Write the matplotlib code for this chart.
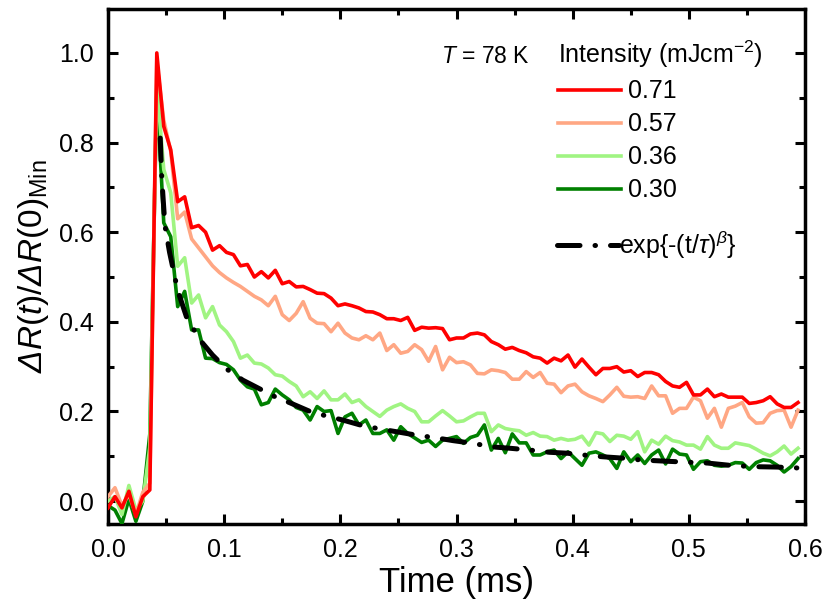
import numpy as np
import matplotlib
matplotlib.use("Agg")
import matplotlib.pyplot as plt
from matplotlib.ticker import MultipleLocator, FormatStrFormatter

plt.rcParams['font.family'] = ['Liberation Sans', 'DejaVu Sans']
plt.rcParams['mathtext.fontset'] = 'custom'
plt.rcParams['mathtext.rm'] = 'Liberation Sans:italic'
plt.rcParams['mathtext.it'] = 'Liberation Sans:italic'
plt.rcParams['mathtext.sf'] = 'Liberation Sans'
plt.rcParams['mathtext.bf'] = 'Liberation Sans:bold'

# sampling interval (ms)
dt = 0.006
n_pts = 100
time = np.arange(n_pts) * dt

labels = ['0.71', '0.57', '0.36', '0.30']
colors = ['#FF0000', '#FFA784', '#A0F482', '#008000']

r071 = [-0.015, 0.01, -0.015, 0.022, -0.035, 0.01, 0.025, 1.0, 0.836, 0.784,
        0.668, 0.679, 0.61, 0.615, 0.60, 0.56, 0.57, 0.555, 0.55, 0.525,
        0.528, 0.50, 0.512, 0.498, 0.515, 0.485, 0.49, 0.478, 0.479, 0.472,
        0.464, 0.463, 0.453, 0.436, 0.44, 0.436, 0.431, 0.423, 0.422, 0.416,
        0.407, 0.407, 0.403, 0.41, 0.381, 0.388, 0.386, 0.387, 0.385, 0.36,
        0.364, 0.364, 0.373, 0.375, 0.371, 0.356, 0.349, 0.339, 0.343, 0.336,
        0.331, 0.322, 0.319, 0.308, 0.319, 0.313, 0.326, 0.299, 0.317, 0.299,
        0.282, 0.296, 0.296, 0.30, 0.288, 0.291, 0.278, 0.287, 0.287, 0.282,
        0.267, 0.257, 0.254, 0.265, 0.237, 0.237, 0.25, 0.233, 0.239, 0.232,
        0.232, 0.232, 0.218, 0.22, 0.224, 0.233, 0.217, 0.209, 0.209, 0.22]

r057 = [0.01, 0.03, -0.01, 0.015, -0.03, 0.02, 0.04, 0.98, 0.85, 0.78,
        0.63, 0.645, 0.585, 0.565, 0.545, 0.525, 0.51, 0.498, 0.488, 0.479,
        0.468, 0.457, 0.449, 0.436, 0.457, 0.416, 0.403, 0.419, 0.445, 0.408,
        0.397, 0.396, 0.378, 0.397, 0.375, 0.364, 0.36, 0.369, 0.36, 0.375,
        0.336, 0.349, 0.33, 0.334, 0.349, 0.338, 0.312, 0.345, 0.293, 0.321,
        0.309, 0.311, 0.304, 0.285, 0.284, 0.293, 0.291, 0.287, 0.272, 0.272,
        0.289, 0.276, 0.287, 0.263, 0.261, 0.242, 0.257, 0.261, 0.244, 0.235,
        0.229, 0.222, 0.237, 0.254, 0.234, 0.232, 0.233, 0.229, 0.257, 0.235,
        0.235, 0.196, 0.207, 0.207, 0.232, 0.224, 0.185, 0.207, 0.165, 0.207,
        0.212, 0.22, 0.188, 0.174, 0.175, 0.196, 0.202, 0.203, 0.165, 0.203]

r036 = [0.0, 0.01, -0.03, 0.035, -0.02, 0.0, 0.12, 0.93, 0.74, 0.688,
        0.524, 0.543, 0.442, 0.46, 0.409, 0.434, 0.393, 0.378, 0.356, 0.319,
        0.326, 0.308, 0.306, 0.297, 0.282, 0.279, 0.267, 0.257, 0.233, 0.244,
        0.229, 0.246, 0.226, 0.226, 0.239, 0.22, 0.226, 0.211, 0.2, 0.189,
        0.203, 0.211, 0.217, 0.207, 0.2, 0.177, 0.177, 0.19, 0.202, 0.19,
        0.177, 0.179, 0.188, 0.196, 0.196, 0.155, 0.17, 0.162, 0.159, 0.157,
        0.147, 0.153, 0.145, 0.144, 0.136, 0.14, 0.136, 0.138, 0.145, 0.125,
        0.153, 0.15, 0.133, 0.147, 0.145, 0.138, 0.155, 0.11, 0.136, 0.127,
        0.145, 0.135, 0.132, 0.125, 0.125, 0.116, 0.144, 0.125, 0.118, 0.118,
        0.13, 0.127, 0.124, 0.116, 0.107, 0.101, 0.11, 0.123, 0.105, 0.118]

r030 = [-0.01, -0.02, -0.05, 0.005, -0.045, 0.0, 0.15, 0.92, 0.621, 0.59,
        0.434, 0.468, 0.382, 0.382, 0.319, 0.318, 0.309, 0.305, 0.293, 0.27,
        0.255, 0.25, 0.215, 0.22, 0.25, 0.237, 0.226, 0.209, 0.203, 0.181,
        0.211, 0.2, 0.202, 0.151, 0.188, 0.196, 0.17, 0.181, 0.151, 0.151,
        0.159, 0.136, 0.166, 0.151, 0.141, 0.131, 0.136, 0.122, 0.136, 0.14,
        0.144, 0.129, 0.142, 0.147, 0.17, 0.114, 0.14, 0.108, 0.15, 0.13,
        0.13, 0.103, 0.103, 0.11, 0.114, 0.095, 0.11, 0.095, 0.08, 0.107,
        0.11, 0.103, 0.095, 0.073, 0.11, 0.088, 0.103, 0.084, 0.103, 0.114,
        0.083, 0.116, 0.105, 0.103, 0.071, 0.088, 0.09, 0.08, 0.078, 0.08,
        0.086, 0.085, 0.071, 0.086, 0.092, 0.09, 0.08, 0.065, 0.077, 0.095]

fit_t = [0.045, 0.0463, 0.049, 0.053, 0.060, 0.0677, 0.079, 0.090, 0.102, 0.116,
         0.131, 0.142, 0.157, 0.174, 0.188, 0.202, 0.217, 0.234, 0.248, 0.266,
         0.283, 0.297, 0.314, 0.331, 0.346, 0.363, 0.380, 0.395, 0.409, 0.426,
         0.443, 0.458, 0.481, 0.498, 0.516, 0.535, 0.555, 0.576, 0.594]
fit_v = [0.81, 0.72, 0.615, 0.555, 0.47, 0.41, 0.36, 0.326, 0.295, 0.27,
         0.25, 0.235, 0.219, 0.20, 0.19, 0.181, 0.17, 0.161, 0.155, 0.147,
         0.141, 0.135, 0.129, 0.121, 0.118, 0.114, 0.109, 0.107, 0.103, 0.099,
         0.096, 0.092, 0.089, 0.087, 0.085, 0.08, 0.077, 0.076, 0.074]

series = [r071, r057, r036, r030]

fig = plt.figure(figsize=(8.25, 6.01), dpi=100)
ax = fig.add_axes([108/825, 77/601, 697/825, 515/601])

handles = []
zorders = [6, 5, 4, 3]
for vals, lab, col, zo in zip(series, labels, colors, zorders):
    h, = ax.plot(time, vals, color=col, lw=2.6, label=lab, zorder=zo)
    handles.append(h)

fit_line, = ax.plot(fit_t, fit_v, color='black', lw=3.6,
                    dashes=(4.5, 3.0, 0.1, 3.0), dash_capstyle='round',
                    zorder=7)

ax.set_xlim(0.0, 0.6)
ax.set_ylim(-0.051, 1.098)
ax.xaxis.set_major_locator(MultipleLocator(0.1))
ax.xaxis.set_minor_locator(MultipleLocator(0.05))
ax.yaxis.set_major_locator(MultipleLocator(0.2))
ax.yaxis.set_minor_locator(MultipleLocator(0.1))
ax.xaxis.set_major_formatter(FormatStrFormatter('%.1f'))
ax.yaxis.set_major_formatter(FormatStrFormatter('%.1f'))

ax.tick_params(which='both', direction='in', top=True, right=True,
               width=2.2, labelsize=18)
ax.tick_params(which='major', length=7, pad=10)
ax.tick_params(which='minor', length=4)
for sp in ax.spines.values():
    sp.set_linewidth(2.5)

ax.set_xlabel('Time (ms)', fontsize=25, labelpad=3)
ax.set_ylabel(r'$\Delta R\mathsf{(}t\mathsf{)/}\Delta R\mathsf{(0)}_{\mathsf{Min}}$',
              fontsize=24, labelpad=6)

leg1 = ax.legend(handles=handles, labels=labels,
                 title=r'Intensity (mJcm$^{\mathsf{-2}}$)',
                 title_fontsize=18, fontsize=18, frameon=False,
                 loc='upper left', bbox_to_anchor=(0.646, 0.942),
                 borderpad=0, borderaxespad=0, handlelength=2.5,
                 handletextpad=0.3, labelspacing=0.36, alignment='left')
ax.add_artist(leg1)

ax.legend(handles=[fit_line], labels=[r'exp{-(t/$\tau$)$^{\beta}$}'],
          fontsize=18, frameon=False, loc='center left',
          bbox_to_anchor=(0.644, 0.542), borderpad=0, borderaxespad=0,
          handlelength=2.5, handletextpad=0.0)

ax.text(0.478, 0.895, r'$T$ = 78 K', transform=ax.transAxes,
        fontsize=16.5, va='baseline', ha='left')

fig.savefig('out.png', dpi=100)
